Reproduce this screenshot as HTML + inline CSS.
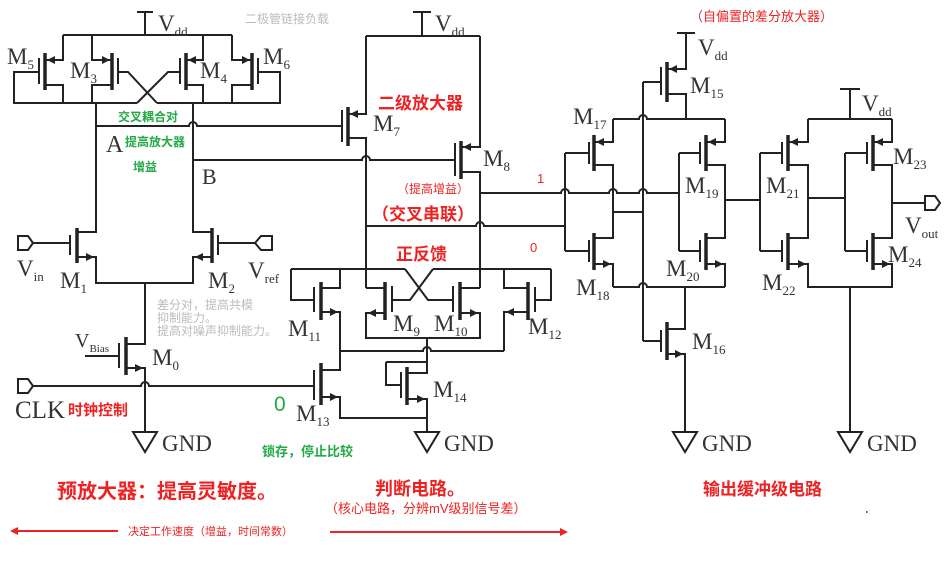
<!DOCTYPE html>
<html><head><meta charset="utf-8"><style>
html,body{margin:0;padding:0;background:#fff;}
svg{display:block;}
.w{stroke:#222;stroke-width:2;fill:none;}
.t{stroke:#222;stroke-width:3.5;fill:none;}
.a{fill:#222;stroke:none;}
.m{font-family:"Liberation Serif",serif;font-size:23px;fill:#333;}
.s{font-size:13px;}
.cn{font-family:"Liberation Sans","Noto Sans CJK SC",sans-serif;}
</style></head><body>
<svg width="945" height="570" viewBox="0 0 945 570" xmlns="http://www.w3.org/2000/svg">
<g class="w">
<!-- left stage -->
<path d="M137 12H153M145 12V35M63 35H232"/>
<path d="M63 35V60H45M45 85H63V103M39 72H14V103H137L137 103M157 103H280V72H258"/>
<path d="M92 35V60H112M112 85H92V103M118 72H128L157 103M180 72H168L137 103"/>
<path d="M203 35V60H186M186 85H203V103M232 35V60H252M252 85H232V103"/>
<path d="M96 103V232H77M77 257H96V283H193V257H212M212 232H193V103"/>
<path d="M96 126H189a4 4 0 0 1 8 0H342M193 160H362a4 4 0 0 1 8 0H455"/>
<path d="M33 243H70M218 243H255"/>
<path d="M145 283V344H126M126 368H145V432M85 356H119"/>
<path d="M33 386H141a4 4 0 0 1 8 0H314"/>
<path d="M18 236H28L33 243L28 250H18Z M272 236H261L255 243L261 250H272Z M18 379H28L33 386L28 393H18Z"/>
<!-- middle -->
<path d="M413 12H431M422 12V36M366 36H480M366 36V114H348M348 138H366V288M480 36V147H461M461 172H480V288"/>
<path d="M366 226H476a4 4 0 0 1 8 0H565M480 193H561a4 4 0 0 1 8 0H609a4 4 0 0 1 8 0H639a4 4 0 0 1 8 0H679"/>
<path d="M291 269H405M433 269H551M392 300H410L433 269M453 300H428L405 269"/>
<path d="M366 288H385M385 313H366V338H480V313H460M460 288H480"/>
<path d="M427 338V362M340 351H423a4 4 0 0 1 8 0H504"/>
<path d="M386 362H427M386 362V385H401M407 373H427V362M407 399H427V432"/>
<path d="M291 269V300H314M321 288H340V269M321 312H340V370H321M321 397H340V418H427"/>
<path d="M551 269V300H535M528 288H504V269M528 312H504V351"/>
<!-- third stage -->
<path d="M565 153V251M565 153H589M565 251H589"/>
<path d="M613 119V142H594M594 165H613V238H594M594 264H613V287M613 212H643"/>
<path d="M613 119H639a4 4 0 0 1 8 0H725M613 287H639a4 4 0 0 1 8 0H725"/>
<path d="M643 82V341M643 82H661M643 341H661"/>
<path d="M677 33H695M686 33V69H667M667 94H686V119"/>
<path d="M679 153V251M679 153H700M679 251H700M725 119V142H706M706 165H725V238H706M706 264H725V287M725 200H760"/>
<path d="M685 287V329H667M667 354H685V432"/>
<!-- output -->
<path d="M840 89H860M850 89V119M808 119H892M808 119V142H788M788 165H808V238H788M788 264H808V287H892V264H873M873 238H892V165H873M873 142H892V119M850 287V432"/>
<path d="M760 153V251M760 153H782M760 251H782M808 198H845M845 153V251M845 153H867M845 251H867M892 203H925M925 196H935L940 203L935 210H925Z"/>
<!-- GND -->
<path d="M133 432H157L145 452Z M415 432H439L427 452Z M673 432H697L685 452Z M838 432H862L850 452Z"/>
</g>
<g class="t">
<path d="M45 53V90M112 53V90M186 53V90M252 53V90"/>
<path d="M77 228V263M212 228V263M126 337V375M348 107V146M461 141V179"/>
<path d="M385 282V320M460 282V320M321 282V320M528 282V320M321 363V405M407 367V405"/>
<path d="M594 135V171M594 233V270M667 62V102M706 135V171M706 233V270M667 322V360M788 135V171M788 233V270M873 135V171M873 233V270"/>
</g>
<g class="w" style="stroke-width:2">
<path d="M39 58V84M118 58V84M180 58V84M258 58V84M70 235V255M218 235V255M119 343V368M342 110V142M455 143V176"/>
<path d="M392 286V312M453 286V312M314 287V312M535 287V312M314 370V400M401 372V398"/>
<path d="M589 142V164M589 240V262M661 67V95M700 142V164M700 240V262M661 330V352M782 142V164M782 240V262M867 142V164M867 240V262"/>
</g>
<g class="a">
<polygon points="47,60 55,56 55,64"/><polygon points="110,60 102,56 102,64"/><polygon points="188,60 196,56 196,64"/><polygon points="250,60 242,56 242,64"/>
<polygon points="94,257 86,253 86,261"/><polygon points="195,257 203,253 203,261"/><polygon points="143,368 135,364 135,372"/>
<polygon points="350,114 358,110 358,118"/><polygon points="463,147 471,143 471,151"/>
<polygon points="368,313 376,309 376,317"/><polygon points="478,313 470,309 470,317"/><polygon points="338,312 330,308 330,316"/><polygon points="506,312 514,308 514,316"/><polygon points="338,397 330,393 330,401"/><polygon points="425,399 417,395 417,403"/>
<polygon points="596,142 604,138 604,146"/><polygon points="611,264 603,260 603,268"/><polygon points="669,69 677,65 677,73"/><polygon points="708,142 716,138 716,146"/><polygon points="723,264 715,260 715,268"/><polygon points="683,354 675,350 675,358"/>
<polygon points="790,142 798,138 798,146"/><polygon points="806,264 798,260 798,268"/><polygon points="875,142 883,138 883,146"/><polygon points="890,264 882,260 882,268"/>
</g>
<!-- labels -->
<g class="m">
<text x="158" y="31">V<tspan class="s" dy="5">dd</tspan></text>
<text x="435" y="31">V<tspan class="s" dy="5">dd</tspan></text>
<text x="698" y="55">V<tspan class="s" dy="5">dd</tspan></text>
<text x="862" y="111">V<tspan class="s" dy="5">dd</tspan></text>
<text x="7" y="64">M<tspan class="s" dy="5">5</tspan></text>
<text x="70" y="78">M<tspan class="s" dy="5">3</tspan></text>
<text x="200" y="78">M<tspan class="s" dy="5">4</tspan></text>
<text x="263" y="64">M<tspan class="s" dy="5">6</tspan></text>
<text x="106" y="152" style="font-size:24px">A</text>
<text x="202" y="184" style="font-size:22px">B</text>
<text x="17" y="276">V<tspan class="s" dy="5">in</tspan></text>
<text x="60" y="288">M<tspan class="s" dy="5">1</tspan></text>
<text x="208" y="288">M<tspan class="s" dy="5">2</tspan></text>
<text x="248" y="278">V<tspan class="s" dy="5">ref</tspan></text>
<text x="75" y="347" style="font-size:20px">V<tspan class="s" dy="5" style="font-size:11px">Bias</tspan></text>
<text x="152" y="365">M<tspan class="s" dy="5">0</tspan></text>
<text x="15" y="418" style="font-size:25px">CLK</text>
<text x="162" y="451">GND</text>
<text x="373" y="131">M<tspan class="s" dy="5">7</tspan></text>
<text x="483" y="166">M<tspan class="s" dy="5">8</tspan></text>
<text x="288" y="336">M<tspan class="s" dy="5">11</tspan></text>
<text x="393" y="331">M<tspan class="s" dy="5">9</tspan></text>
<text x="434" y="331">M<tspan class="s" dy="5">10</tspan></text>
<text x="528" y="334">M<tspan class="s" dy="5">12</tspan></text>
<text x="296" y="421">M<tspan class="s" dy="5">13</tspan></text>
<text x="433" y="397">M<tspan class="s" dy="5">14</tspan></text>
<text x="444" y="451">GND</text>
<text x="690" y="93">M<tspan class="s" dy="5">15</tspan></text>
<text x="573" y="124">M<tspan class="s" dy="5">17</tspan></text>
<text x="685" y="193">M<tspan class="s" dy="5">19</tspan></text>
<text x="666" y="276">M<tspan class="s" dy="5">20</tspan></text>
<text x="576" y="295">M<tspan class="s" dy="5">18</tspan></text>
<text x="692" y="349">M<tspan class="s" dy="5">16</tspan></text>
<text x="702" y="451">GND</text>
<text x="766" y="193">M<tspan class="s" dy="5">21</tspan></text>
<text x="762" y="290">M<tspan class="s" dy="5">22</tspan></text>
<text x="893" y="164">M<tspan class="s" dy="5">23</tspan></text>
<text x="888" y="262">M<tspan class="s" dy="5">24</tspan></text>
<text x="905" y="233">V<tspan class="s" dy="5">out</tspan></text>
<text x="867" y="451">GND</text>
</g>
<g class="cn">
<text x="245" y="23" font-size="12" fill="#bbb">二极管链接负载</text>
<text x="118" y="121" font-size="12" fill="#22aa44" font-weight="bold">交叉耦合对</text>
<text x="125" y="146" font-size="12" fill="#22aa44" font-weight="bold">提高放大器</text>
<text x="133" y="171" font-size="12" fill="#22aa44" font-weight="bold">增益</text>
<text x="157" y="309" font-size="12" fill="#bbb">差分对，提高共模</text>
<text x="157" y="322" font-size="12" fill="#bbb">抑制能力。</text>
<text x="157" y="335" font-size="12" fill="#bbb">提高对噪声抑制能力。</text>
<text x="68" y="415" font-size="15" fill="#ee2222" font-weight="bold">时钟控制</text>
<text x="274" y="411" font-size="21" fill="#22aa44">0</text>
<text x="262" y="456" font-size="13" fill="#22aa44" font-weight="bold">锁存，停止比较</text>
<text x="378" y="109" font-size="17" fill="#ee2222" font-weight="bold">二级放大器</text>
<text x="397" y="193" font-size="12" fill="#ee2222">（提高增益）</text>
<text x="372" y="220" font-size="17" fill="#ee2222" font-weight="bold">（交叉串联）</text>
<text x="396" y="260" font-size="17" fill="#ee2222" font-weight="bold">正反馈</text>
<text x="537" y="183" font-size="13" fill="#ee2222">1</text>
<text x="530" y="252" font-size="13" fill="#ee2222">0</text>
<text x="690" y="21" font-size="13" fill="#ee2222">（自偏置的差分放大器）</text>
<text x="57" y="498" font-size="20" fill="#ee2222" font-weight="bold">预放大器：提高灵敏度。</text>
<text x="375" y="495" font-size="18" fill="#ee2222" font-weight="bold">判断电路。</text>
<text x="325" y="513" font-size="13" fill="#ee2222">（核心电路，分辨mV级别信号差）</text>
<text x="703" y="495" font-size="17" fill="#ee2222" font-weight="bold">输出缓冲级电路</text>
<text x="128" y="535" font-size="11" fill="#ee2222">决定工作速度（增益，时间常数）</text>
</g>
<path d="M18 531H118M330 532H562" stroke="#ee2222" stroke-width="2" fill="none"/>
<polygon points="10,531 18,527 18,535" fill="#ee2222"/>
<polygon points="568,532 560,528 560,536" fill="#ee2222"/>
<rect x="866" y="511" width="1.5" height="2" fill="#555"/>
</svg>
</body></html>
